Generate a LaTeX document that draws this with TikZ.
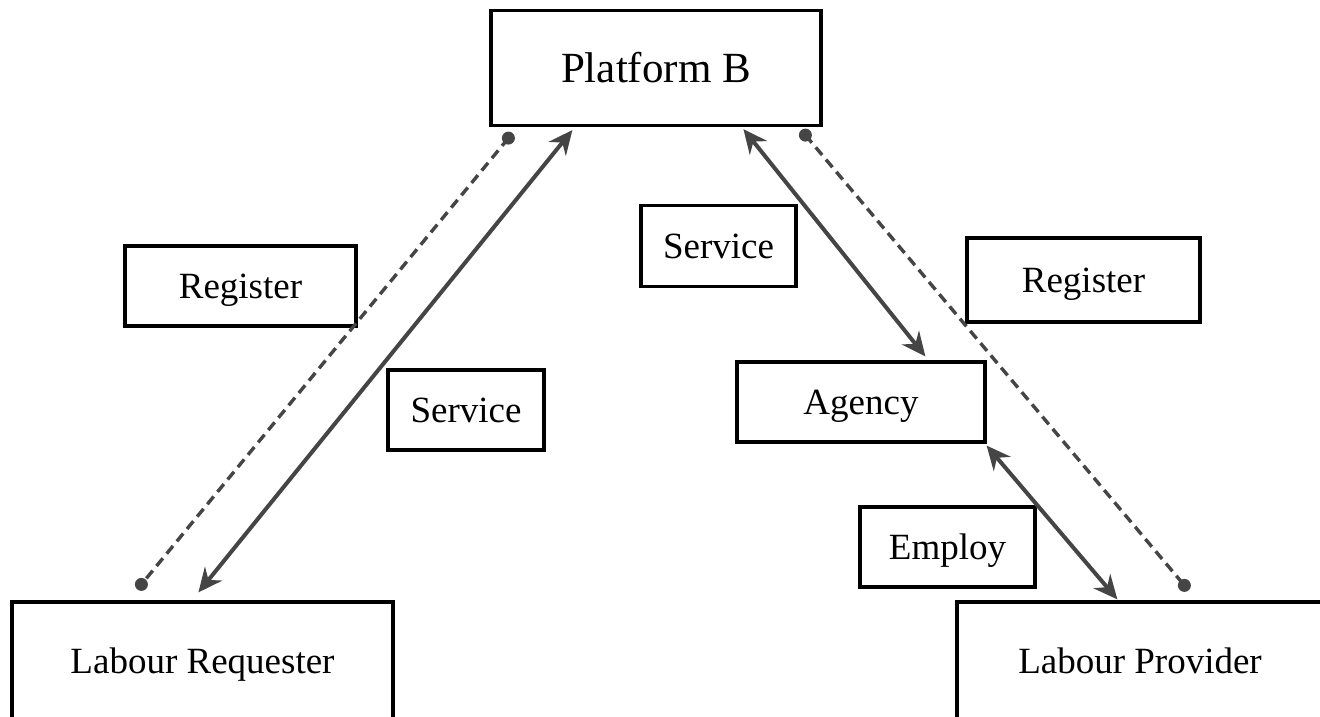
\documentclass[tikz,border=0pt]{standalone}
\usepackage{fontspec}
\setmainfont{Liberation Serif}
\usetikzlibrary{arrows.meta,calc}
\definecolor{ln}{HTML}{454545}
\begin{document}
\begin{tikzpicture}[x=1pt,y=-1pt,
  box/.style={draw=black,line width=3.2pt,fill=white,inner sep=0pt,text height=33pt,text depth=9pt,font=\fontsize{37}{44}\selectfont},
  conn/.style={draw=ln,line width=4pt,{Stealth[length=24pt,width=22pt,inset=8pt]}-{Stealth[length=24pt,width=22pt,inset=8pt]}},
  reg/.style={draw=ln,line width=3.4pt,dash pattern=on 10pt off 6pt},
  dotc/.style={fill=ln,circle,inner sep=0pt,minimum size=13pt}]
\clip (0,0) rectangle (1320,717);
\useasboundingbox (0,0) rectangle (1320,717);
% boxes
\node[box,minimum width=330pt,minimum height=115pt,text height=38pt,text depth=10pt,font=\fontsize{43}{50}\selectfont] (pb) at (656,68) {Platform B};
\node[box,minimum width=381pt,minimum height=118pt] (lr) at (202.5,661) {Labour Requester};
\node[box,minimum width=366pt,minimum height=118pt] (lp) at (1140,661) {Labour Provider};
\node[box,minimum width=248pt,minimum height=80pt] (ag) at (861,402) {Agency};
\node[box,minimum width=231pt,minimum height=80pt] (rl) at (240.5,286) {Register};
\node[box,minimum width=156pt,minimum height=80pt] (sl) at (466,410) {Service};
\node[box,minimum width=155pt,minimum height=81pt] (sr) at (718.5,246) {Service};
\node[box,minimum width=233pt,minimum height=84pt] (rr) at (1083.5,280) {Register};
\node[box,minimum width=175pt,minimum height=80pt] (em) at (947.5,547) {Employ};
% endpoints
\coordinate (d1) at ($(pb.south west)+(19,11)$);
\coordinate (d2) at ($(lr.north west)+(131,-16)$);
\coordinate (a1) at ($(pb.south west)+(83,3)$);
\coordinate (a2) at ($(lr.north west)+(188,-8)$);
\coordinate (b1) at ($(pb.south west)+(254,2)$);
\coordinate (b2) at ($(ag.north west)+(190,-4)$);
\coordinate (d3) at ($(pb.south west)+(316,8)$);
\coordinate (d4) at ($(lp.north west)+(229,-15)$);
\coordinate (c1) at ($(ag.south east)+(0,2)$);
\coordinate (c2) at ($(lp.north west)+(162,-1)$);
% dashed register lines
\draw[reg] (d1) -- (d2);
\draw[reg] (d3) -- (d4);
\node[dotc] (e1) at (d1) {};
\node[dotc] (e2) at (d2) {};
\node[dotc] (e3) at (d3) {};
\node[dotc] (e4) at (d4) {};
% service / employ arrows
\draw[conn] (a1) -- (a2);
\draw[conn] (b1) -- (b2);
\draw[conn] (c1) -- (c2);
\end{tikzpicture}
\end{document}
